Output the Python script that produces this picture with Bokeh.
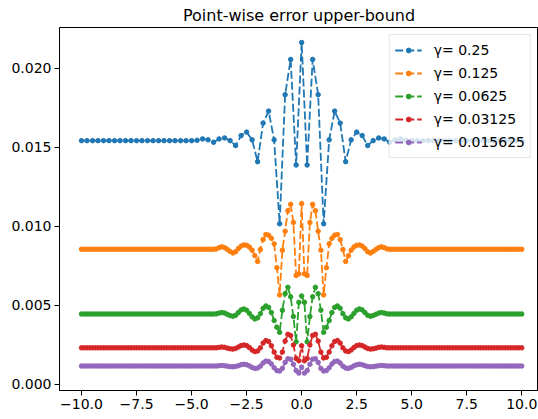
import numpy as np
from bokeh.plotting import figure
from bokeh.models import Range1d, FixedTicker, CustomJSTickFormatter
from bokeh.embed import file_html
from bokeh.resources import INLINE

title = "Point-wise error upper-bound"
labels = ["γ= 0.25", "γ= 0.125", "γ= 0.0625", "γ= 0.03125", "γ= 0.015625"]
colors = ["#1f77b4", "#ff7f0e", "#2ca02c", "#d62728", "#9467bd"]
x_ticks = [-10.0, -7.5, -5.0, -2.5, 0.0, 2.5, 5.0, 7.5, 10.0]
y_ticks = [0.000, 0.005, 0.010, 0.015, 0.020]

x_coarse = np.linspace(-10, 10, 81)
x_fine = np.linspace(-10, 10, 161)

err_g0250 = [0.01543] * 21 + [
    0.01545, 0.01554, 0.01548, 0.01533, 0.01554, 0.01560, 0.01543, 0.01512,
    0.01575, 0.01597, 0.01548, 0.01410, 0.01654, 0.01730, 0.01548, 0.01017,
    0.01834, 0.02057, 0.01389, 0.02164, 0.01389, 0.02057, 0.01834, 0.01017,
    0.01548, 0.01730, 0.01654, 0.01410, 0.01548, 0.01597, 0.01575, 0.01512,
    0.01543, 0.01560, 0.01554, 0.01533, 0.01548, 0.01554, 0.01545,
] + [0.01543] * 21

err_g0125 = [0.00856] * 48 + [
    0.00856, 0.00858, 0.00866, 0.00871, 0.00866, 0.00855, 0.00842, 0.00832,
    0.00840, 0.00860, 0.00876, 0.00883, 0.00881, 0.00870, 0.00850, 0.00815,
    0.00779, 0.00854, 0.00917, 0.00949, 0.00945, 0.00925, 0.00890, 0.00739,
    0.00567, 0.00850, 0.00970, 0.01100, 0.01140, 0.01025, 0.00690, 0.00700,
    0.01145,
    0.00700, 0.00690, 0.01025, 0.01140, 0.01100, 0.00970, 0.00850, 0.00567,
    0.00739, 0.00890, 0.00925, 0.00945, 0.00949, 0.00917, 0.00854, 0.00779,
    0.00815, 0.00850, 0.00870, 0.00881, 0.00883, 0.00876, 0.00860, 0.00840,
    0.00832, 0.00842, 0.00855, 0.00866, 0.00871, 0.00866, 0.00858, 0.00856,
] + [0.00856] * 48

err_g0625 = [0.00446] * 48 + [
    0.00446, 0.00447, 0.00452, 0.00455, 0.00452, 0.00444, 0.00436, 0.00432,
    0.00438, 0.00455, 0.00472, 0.00478, 0.00470, 0.00450, 0.00428, 0.00415,
    0.00422, 0.00448, 0.00482, 0.00497, 0.00488, 0.00455, 0.00405, 0.00362,
    0.00330, 0.00470, 0.00575, 0.00615, 0.00555, 0.00430, 0.00270, 0.00520,
    0.00560,
    0.00520, 0.00270, 0.00430, 0.00555, 0.00615, 0.00575, 0.00470, 0.00330,
    0.00362, 0.00405, 0.00455, 0.00488, 0.00497, 0.00482, 0.00448, 0.00422,
    0.00415, 0.00428, 0.00450, 0.00470, 0.00478, 0.00472, 0.00455, 0.00438,
    0.00432, 0.00436, 0.00444, 0.00452, 0.00455, 0.00452, 0.00447, 0.00446,
] + [0.00446] * 48

err_g03125 = [0.00232] * 48 + [
    0.00232, 0.00232, 0.00235, 0.00237, 0.00235, 0.00230, 0.00226, 0.00224,
    0.00228, 0.00237, 0.00246, 0.00250, 0.00246, 0.00234, 0.00218, 0.00208,
    0.00212, 0.00232, 0.00262, 0.00278, 0.00272, 0.00245, 0.00205, 0.00172,
    0.00168, 0.00205, 0.00275, 0.00318, 0.00310, 0.00250, 0.00165, 0.00150,
    0.00245,
    0.00150, 0.00165, 0.00250, 0.00310, 0.00318, 0.00275, 0.00205, 0.00168,
    0.00172, 0.00205, 0.00245, 0.00272, 0.00278, 0.00262, 0.00232, 0.00212,
    0.00208, 0.00218, 0.00234, 0.00246, 0.00250, 0.00246, 0.00237, 0.00228,
    0.00224, 0.00226, 0.00230, 0.00235, 0.00237, 0.00235, 0.00232, 0.00232,
] + [0.00232] * 48

err_g015625 = [0.00117] * 48 + [
    0.00117, 0.00117, 0.00119, 0.00120, 0.00119, 0.00116, 0.00113, 0.00112,
    0.00114, 0.00119, 0.00125, 0.00128, 0.00125, 0.00118, 0.00108, 0.00102,
    0.00104, 0.00116, 0.00136, 0.00148, 0.00146, 0.00130, 0.00106, 0.00088,
    0.00085, 0.00102, 0.00140, 0.00163, 0.00160, 0.00128, 0.00088, 0.00072,
    0.00110,
    0.00072, 0.00088, 0.00128, 0.00160, 0.00163, 0.00140, 0.00102, 0.00085,
    0.00088, 0.00106, 0.00130, 0.00146, 0.00148, 0.00136, 0.00116, 0.00104,
    0.00102, 0.00108, 0.00118, 0.00125, 0.00128, 0.00125, 0.00119, 0.00114,
    0.00112, 0.00113, 0.00116, 0.00119, 0.00120, 0.00119, 0.00117, 0.00117,
] + [0.00117] * 48

series = [
    (x_coarse, err_g0250),
    (x_fine, err_g0125),
    (x_fine, err_g0625),
    (x_fine, err_g03125),
    (x_fine, err_g015625),
]

FONT = "DejaVu Sans"

p = figure(
    width=538, height=419,
    output_backend="svg", toolbar_location=None,
    x_range=Range1d(-11.0, 10.76), y_range=Range1d(-0.00038, 0.02259),
    title=title,
    min_border_left=59, min_border_right=0, min_border_top=0, min_border_bottom=29,
)
p.background_fill_color = "white"
p.border_fill_color = "white"
p.outline_line_color = "black"
p.outline_line_width = 1
p.grid.visible = False

p.title.text_font = FONT
p.title.text_font_size = "16px"
p.title.text_font_style = "normal"
p.title.align = "center"
p.title.text_color = "black"
p.title.standoff = 6

for ax in (p.xaxis[0], p.yaxis[0]):
    ax.axis_line_color = "black"
    ax.major_tick_line_color = "black"
    ax.major_tick_out = 5
    ax.major_tick_in = 0
    ax.minor_tick_line_color = None
    ax.major_label_text_font = FONT
    ax.major_label_text_font_size = "14px"
    ax.major_label_text_color = "black"
    ax.major_label_standoff = 3

p.xaxis.ticker = FixedTicker(ticks=x_ticks)
p.yaxis.ticker = FixedTicker(ticks=y_ticks)
p.xaxis.formatter = CustomJSTickFormatter(
    code='return (tick < 0 ? "\\u2212" : "") + Math.abs(tick).toFixed(1);')
p.yaxis.formatter = CustomJSTickFormatter(code='return tick.toFixed(3);')

for (xs, ys), lab, col in zip(series, labels, colors):
    p.line(xs, ys, line_color=col, line_width=1.8, line_dash="8 3", legend_label=lab)
    p.scatter(xs, ys, size=4.5, fill_color=col, line_color=col, legend_label=lab)

lg = p.legend[0]
lg.location = "top_right"
lg.margin = 7
lg.padding = 5
lg.spacing = 3
lg.glyph_width = 27
lg.glyph_height = 12
lg.label_height = 20
lg.label_standoff = 12
lg.label_text_font = FONT
lg.label_text_font_size = "14px"
lg.label_text_color = "black"
lg.background_fill_color = "white"
lg.background_fill_alpha = 0.8
lg.border_line_color = "#cccccc"
lg.border_line_width = 1

open("out.html", "w").write(file_html(p, INLINE))
